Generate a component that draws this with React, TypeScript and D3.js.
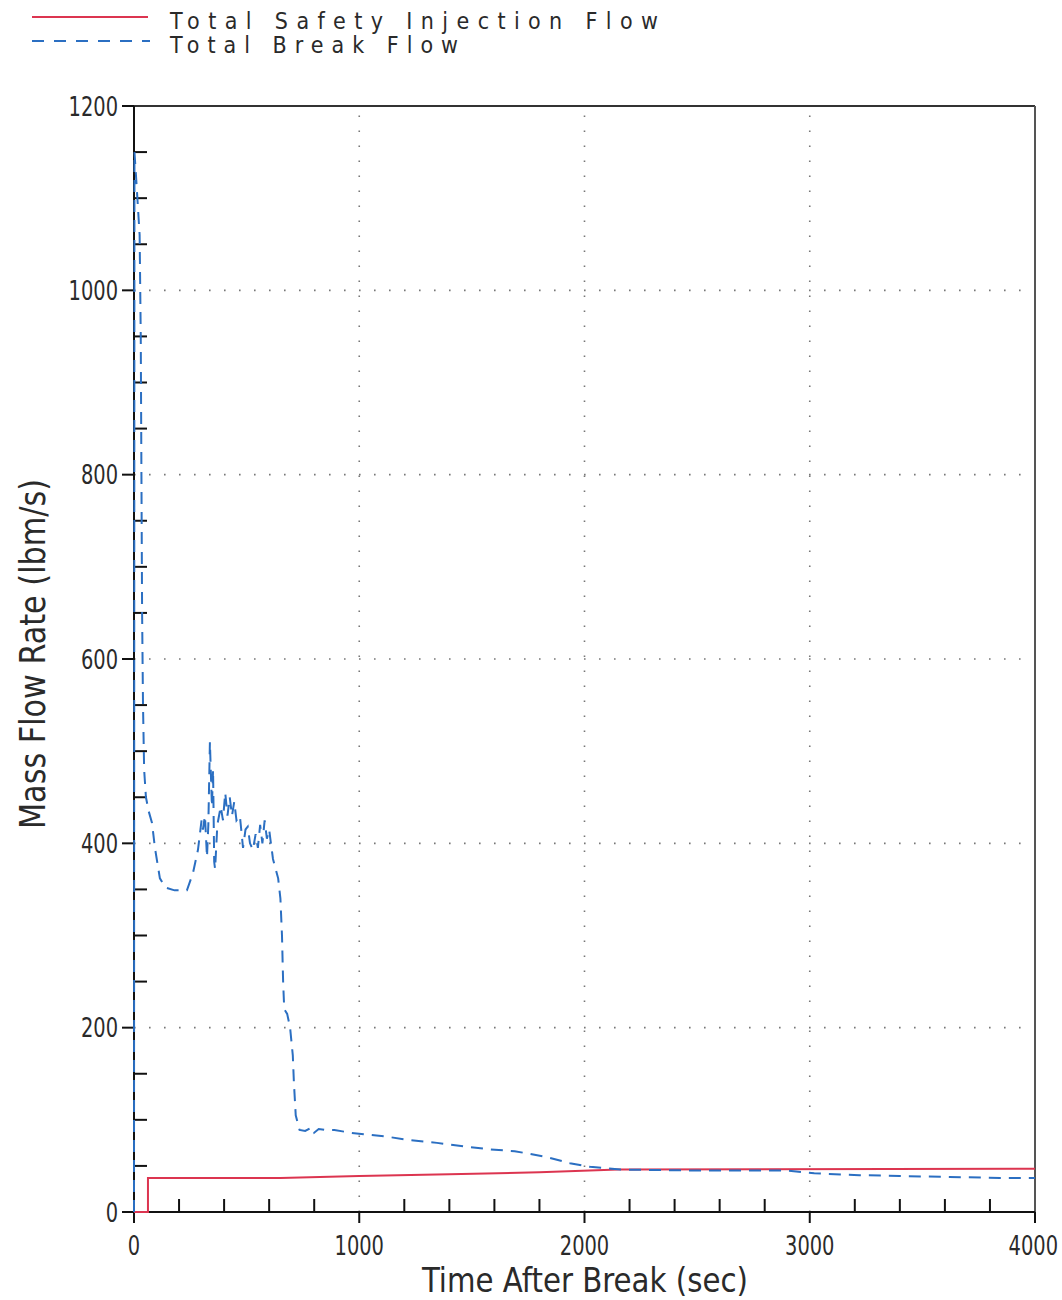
import React from "react";
import * as d3 from "d3";

// Break flow transient (time in s, mass flow in lbm/s)
const breakTime = [
  0, 2, 10, 25, 30, 33, 36, 40, 45, 53, 65, 80, 93, 115, 140, 180, 235, 262, 284,
  300, 306, 315, 324, 330, 337, 342, 346, 351, 356, 360, 370, 385, 395, 405, 415,
  425, 435, 445, 455, 470, 484, 495, 505, 515, 528, 540, 550, 560, 570, 580, 590,
  600, 617, 640, 650, 657, 662, 667, 680, 693, 705, 710, 718, 735, 760, 790, 800,
  820, 850, 890, 960, 1115, 1225, 1345, 1470, 1580, 1690, 1825, 1935, 2025, 2160,
  2500, 2900, 3020, 3220, 3400, 3620, 3845, 4000,
];
const breakFlow = [
  0, 1150, 1120, 1060, 950, 800, 650, 550, 480, 450, 435, 422, 395, 362, 352, 349,
  349, 368, 393, 425, 415, 430, 385, 420, 510, 470, 440, 480, 380, 372, 420, 440,
  425, 455, 430, 450, 430, 445, 425, 430, 395, 415, 418, 400, 393, 410, 395, 420,
  400, 425, 405, 415, 383, 362, 340, 300, 250, 220, 215, 200, 170, 140, 105, 89,
  88, 92, 86, 90, 89, 89, 86, 82, 78, 75, 71, 68, 66, 60, 53, 49, 46, 45, 45, 42,
  40, 39, 38, 37, 37,
];

// Safety injection flow
const siTime = [0, 62, 62, 650, 1000, 1400, 1800, 2150, 4000];
const siFlow = [0, 0, 37, 37, 39, 41, 43, 46, 47];

const xTicks = [0, 1000, 2000, 3000, 4000];
const yTicks = [0, 200, 400, 600, 800, 1000, 1200];

const legendItems = ["Total Safety Injection Flow", "Total Break Flow"];

const RED = "#dc3550";
const BLUE = "#2b6fc2";
const INK = "#2a2a2a";
const FONT = "'Liberation Sans Narrow', 'DejaVu Sans Condensed', 'Liberation Sans', sans-serif";

export default function App() {
  const width = 1062;
  const height = 1300;
  const x = d3.scaleLinear().domain([0, 4000]).range([134, 1035]);
  const y = d3.scaleLinear().domain([0, 1200]).range([1212, 106]);

  const line = d3
    .line<[number, number]>()
    .x((d) => x(d[0]))
    .y((d) => y(d[1]));

  const breakPts = breakTime.map((t, i) => [t, breakFlow[i]] as [number, number]);
  const siPts = siTime.map((t, i) => [t, siFlow[i]] as [number, number]);

  const xMinor = d3.range(200, 4000, 200).filter((v) => v % 1000 !== 0);
  const yMinor = d3.range(50, 1200, 50).filter((v) => v % 200 !== 0);

  const [x0, x1] = x.range();
  const [y0, y1] = y.range();

  // tick digits are drawn horizontally compressed
  const squeeze = 0.8;

  return (
    <div style={{ position: "absolute", left: 0, top: 0 }}>
      <svg width={width} height={height} style={{ display: "block", background: "#fff" }}>
        {/* legend */}
        <g>
          <line x1={32} x2={148} y1={17} y2={17} stroke={RED} strokeWidth={2} />
          <line x1={32} x2={150} y1={41} y2={41} stroke={BLUE} strokeWidth={2} strokeDasharray="12 10" />
          {legendItems.map((label, i) => (
            <text
              key={label}
              x={170}
              y={29 + i * 24}
              fontFamily={FONT}
              fontSize={23}
              fill={INK}
              textLength={i === 0 ? 488 : 288}
              lengthAdjust="spacing"
            >
              {label}
            </text>
          ))}
        </g>

        {/* dotted grid */}
        <g stroke="#777" strokeWidth={1.6} strokeDasharray="1.6 13.4">
          {xTicks
            .filter((v) => v > 0 && v < 4000)
            .map((v) => (
              <line key={"gx" + v} x1={x(v)} x2={x(v)} y1={y0} y2={y1} />
            ))}
          {yTicks
            .filter((v) => v > 0 && v < 1200)
            .map((v) => (
              <line key={"gy" + v} x1={x0} x2={x1} y1={y(v)} y2={y(v)} />
            ))}
        </g>

        {/* frame */}
        <line x1={x0} x2={x1} y1={y1} y2={y1} stroke="#333" strokeWidth={2} />
        <line x1={x1} x2={x1} y1={y1} y2={y0} stroke="#555" strokeWidth={2} />
        <line x1={x0} x2={x1} y1={y0} y2={y0} stroke="#111" strokeWidth={2} />
        <line x1={x0} x2={x0} y1={y1} y2={y0} stroke="#111" strokeWidth={2} />

        {/* ticks */}
        <g stroke="#111" strokeWidth={2}>
          {xTicks.map((v) => (
            <line key={"xt" + v} x1={x(v)} x2={x(v)} y1={y0} y2={y0 + 11} />
          ))}
          {xMinor.map((v) => (
            <line key={"xm" + v} x1={x(v)} x2={x(v)} y1={y0} y2={y0 - 13} />
          ))}
          {yTicks.map((v) => (
            <line key={"yt" + v} x1={x0 - 12} x2={x0} y1={y(v)} y2={y(v)} />
          ))}
          {yMinor.map((v) => (
            <line key={"ym" + v} x1={x0} x2={x0 + 13} y1={y(v)} y2={y(v)} />
          ))}
        </g>

        {/* tick labels */}
        <g fontFamily={FONT} fontSize={27} fill={INK}>
          {yTicks.map((v) => (
            <text
              key={"yl" + v}
              transform={`translate(${x0 - 16},${y(v)}) scale(${squeeze},1)`}
              dy="0.36em"
              textAnchor="end"
            >
              {v}
            </text>
          ))}
          {xTicks.map((v, i) => {
            const last = i === xTicks.length - 1;
            return (
              <text
                key={"xl" + v}
                transform={`translate(${last ? width - 4 : x(v)},1255) scale(${squeeze},1)`}
                textAnchor={last ? "end" : "middle"}
              >
                {v}
              </text>
            );
          })}
        </g>

        {/* axis titles */}
        <text
          x={585}
          y={1292}
          textAnchor="middle"
          fontFamily={FONT}
          fontSize={34}
          fill={INK}
          textLength={326}
          lengthAdjust="spacingAndGlyphs"
        >
          Time After Break (sec)
        </text>
        <text
          transform="translate(45,654) rotate(-90)"
          textAnchor="middle"
          fontFamily={FONT}
          fontSize={35}
          fill={INK}
          textLength={350}
          lengthAdjust="spacingAndGlyphs"
        >
          Mass Flow Rate (lbm/s)
        </text>

        {/* series */}
        <path d={line(siPts) ?? ""} fill="none" stroke={RED} strokeWidth={2} />
        <path
          d={line(breakPts) ?? ""}
          fill="none"
          stroke={BLUE}
          strokeWidth={2}
          strokeDasharray="12 8"
        />
      </svg>
    </div>
  );
}
